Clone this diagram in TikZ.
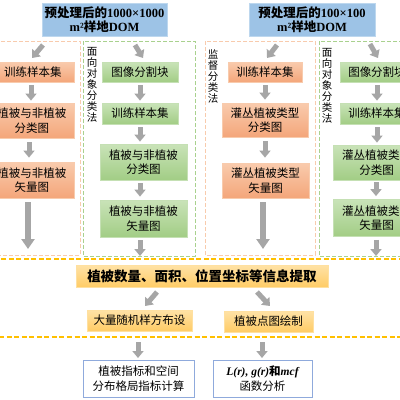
\documentclass[tikz,border=0pt]{standalone}
\usepackage{fontspec}
\setmainfont{Liberation Serif}
\newfontfamily\cjk{Noto Sans CJK SC}
\usetikzlibrary{arrows.meta}
\definecolor{blueF}{HTML}{9DC3E6}
\definecolor{blueD}{HTML}{BDD7EE}
\definecolor{salT}{HTML}{F9CBAD}
\definecolor{salB}{HTML}{F4A67A}
\definecolor{salD}{HTML}{F8CBAD}
\definecolor{grnT}{HTML}{C9E3B8}
\definecolor{grnB}{HTML}{A2CD85}
\definecolor{grnD}{HTML}{C5E0B4}
\definecolor{grnL}{HTML}{A9D18E}
\definecolor{orgT}{HTML}{FFE2A6}
\definecolor{orgB}{HTML}{FFCC66}
\definecolor{orgD}{HTML}{FFE0A0}
\definecolor{orgL}{HTML}{FFC000}
\definecolor{bbD}{HTML}{8FAADC}
\definecolor{arr}{HTML}{A6A6A6}
\tikzset{
  box/.style={rectangle, inner sep=0pt, align=center, line width=0.8pt},
  bluebox/.style={box, fill=blueF, draw=blueD, font=\bfseries\fontsize{12.5}{14}\selectfont},
  sbox/.style={box, top color=salT, bottom color=salB, draw=salD, font=\cjk\fontsize{11.5}{14.5}\selectfont},
  gbox/.style={box, top color=grnT, bottom color=grnB, draw=grnD, font=\cjk\fontsize{11.5}{14.5}\selectfont},
  obox/.style={box, top color=orgT, bottom color=orgB, draw=orgD, font=\cjk\fontsize{11.5}{14}\selectfont},
  wbox/.style={box, fill=white, draw=bbD, line width=1pt, font=\cjk\fontsize{11.5}{15}\selectfont},
  vtext/.style={inner sep=0pt, align=center, font=\cjk\fontsize{10.5}{11}\selectfont},
  sdash/.style={draw=salD, line width=0.9pt, dash pattern=on 4pt off 2pt},
  gdash/.style={draw=grnL, line width=0.9pt, dash pattern=on 4pt off 2pt},
  odash/.style={draw=orgL, line width=1.4pt, dash pattern=on 5pt off 2.5pt},
  sarrow/.style={draw=arr, line width=5pt, -{Triangle[width=11pt,length=7pt]}},
  barrow/.style={draw=arr, line width=6pt, -{Triangle[width=13pt,length=10pt]}},
}
\begin{document}
\begin{tikzpicture}[x=1pt,y=-1pt]
\useasboundingbox (0,0) rectangle (400,400);
\fill[white] (0,0) rectangle (400,400);
% dashed regions
\draw[sdash] (-5,41) rectangle (80,255);
\draw[gdash] (83,41) rectangle (195,256);
\draw[sdash] (205,41) rectangle (315,255);
\draw[gdash] (319,41) rectangle (410,256);
\draw[odash] (-5,259) rectangle (410,337);
% top boxes
\node[bluebox, minimum width=125pt, minimum height=33pt] (top1) at (104.5,19.5) {{\cjk 预处理后的}1000×1000\\m²{\cjk 样地}DOM};
\node[bluebox, minimum width=126pt, minimum height=33pt] (top2) at (312,19.5) {{\cjk 预处理后的}100×100\\m²{\cjk 样地}DOM};
% left salmon column
\node[sbox, minimum width=82pt, minimum height=20pt] (L1) at (33,72) {训练样本集};
\node[sbox, minimum width=84pt, minimum height=35pt] (L2) at (32,120.5) {植被与非植被\\分类图};
\node[sbox, minimum width=84pt, minimum height=36pt] (L3) at (32,180) {植被与非植被\\矢量图};
% left green column
\node[vtext] (V1) at (92,85) {面\\向\\对\\象\\分\\类\\法};
\node[gbox, minimum width=76pt, minimum height=20pt] (G1) at (140,72) {图像分割块};
\node[gbox, minimum width=76pt, minimum height=21pt] (G2) at (140,113.5) {训练样本集};
\node[gbox, minimum width=87pt, minimum height=36pt] (G3) at (143.5,162) {植被与非植被\\分类图};
\node[gbox, minimum width=87pt, minimum height=37pt] (G4) at (143.5,218.5) {植被与非植被\\矢量图};
% right salmon column
\node[vtext] (V2) at (213,76.5) {监\\督\\分\\类\\法};
\node[sbox, minimum width=74pt, minimum height=20pt] (R1) at (265,72) {训练样本集};
\node[sbox, minimum width=86pt, minimum height=34pt] (R2) at (265,120) {灌丛植被类型\\分类图};
\node[sbox, minimum width=87pt, minimum height=35pt] (R3) at (265.5,180.5) {灌丛植被类型\\矢量图};
% right green column
\node[vtext] (V3) at (327,86) {面\\向\\对\\象\\分\\类\\法};
\node[gbox, minimum width=74pt, minimum height=20pt] (RG1) at (377,72) {图像分割块};
\node[gbox, minimum width=74pt, minimum height=21pt] (RG2) at (377,113.5) {训练样本集};
\node[gbox, minimum width=87pt, minimum height=35pt] (RG3) at (376.5,162.5) {灌丛植被类型\\分类图};
\node[gbox, minimum width=87pt, minimum height=37pt] (RG4) at (376.5,218) {灌丛植被类型\\矢量图};
% orange region
\node[obox, minimum width=252pt, minimum height=22pt, font=\cjk\bfseries\fontsize{13.5}{15}\selectfont] (E) at (202,276) {植被数量、面积、位置坐标等信息提取};
\node[obox, minimum width=105pt, minimum height=21pt] (O1) at (139.5,320.5) {大量随机样方布设};
\node[obox, minimum width=89pt, minimum height=21pt] (O2) at (268.5,321.5) {植被点图绘制};
% bottom boxes
\node[wbox, minimum width=111pt, minimum height=37pt] (B1) at (138.5,378.5) {植被指标和空间\\分布格局指标计算};
\node[wbox, minimum width=99pt, minimum height=37pt] (B2) at (262.5,378.5) {{\rmfamily\bfseries\itshape L(r), g(r)}{\bfseries 和}{\rmfamily\bfseries\itshape mcf}\\函数分析};
% arrow coordinates
\coordinate (a1s) at (43,45);  \coordinate (a1e) at (32,58);
\coordinate (a2s) at (135,45); \coordinate (a2e) at (143,58);
\coordinate (b1s) at (277,45); \coordinate (b1e) at (267,58);
\coordinate (b2s) at (370,44); \coordinate (b2e) at (378,58);
\coordinate (L3e) at (28,249);
\coordinate (R3e) at (263,249);
\coordinate (G4e) at (140,256);
\coordinate (RG4e) at (376,256);
\coordinate (c1s) at (157,292); \coordinate (c1e) at (145,306);
\coordinate (c2s) at (257,292); \coordinate (c2e) at (270,306);
\coordinate (d1s) at (138,342); \coordinate (d1e) at (138,358);
\coordinate (d2s) at (262,342); \coordinate (d2e) at (262,358);
% arrows
\draw[sarrow] (a1s) -- (a1e);
\draw[sarrow] (a2s) -- (a2e);
\draw[sarrow] (b1s) -- (b1e);
\draw[sarrow] (b2s) -- (b2e);
\draw[sarrow] ([yshift=-3pt,xshift=-2pt]L1.south) -- ([yshift=2pt,xshift=-1pt]L2.north);
\draw[sarrow] ([yshift=-4pt,xshift=-3pt]L2.south) -- ([yshift=4pt,xshift=-3pt]L3.north);
\draw[barrow] ([yshift=-4pt,xshift=-4pt]L3.south) -- (L3e);
\draw[sarrow] ([yshift=-3pt]G1.south) -- ([yshift=2pt]G2.north);
\draw[sarrow] ([yshift=-3pt]G2.south) -- ([yshift=2pt,xshift=-3.5pt]G3.north);
\draw[sarrow] ([yshift=-3pt,xshift=-3.5pt]G3.south) -- ([yshift=3pt,xshift=-3.5pt]G4.north);
\draw[sarrow] ([yshift=-3pt,xshift=-3.5pt]G4.south) -- (G4e);
\draw[sarrow] ([yshift=-3pt]R1.south) -- ([yshift=3pt]R2.north);
\draw[sarrow] ([yshift=-4pt]R2.south) -- ([yshift=5pt,xshift=-0.5pt]R3.north);
\draw[barrow] ([yshift=-4pt,xshift=-2.5pt]R3.south) -- (R3e);
\draw[sarrow] ([yshift=-3pt]RG1.south) -- ([yshift=2pt]RG2.north);
\draw[sarrow] ([yshift=-3pt]RG2.south) -- ([yshift=2pt,xshift=0.5pt]RG3.north);
\draw[sarrow] ([yshift=-2pt,xshift=-0.5pt]RG3.south) -- ([yshift=3pt,xshift=-0.5pt]RG4.north);
\draw[sarrow] ([yshift=-3pt,xshift=-0.5pt]RG4.south) -- (RG4e);
\draw[sarrow] (c1s) -- (c1e);
\draw[sarrow] (c2s) -- (c2e);
\draw[sarrow] (d1s) -- (d1e);
\draw[sarrow] (d2s) -- (d2e);
\end{tikzpicture}
\end{document}
